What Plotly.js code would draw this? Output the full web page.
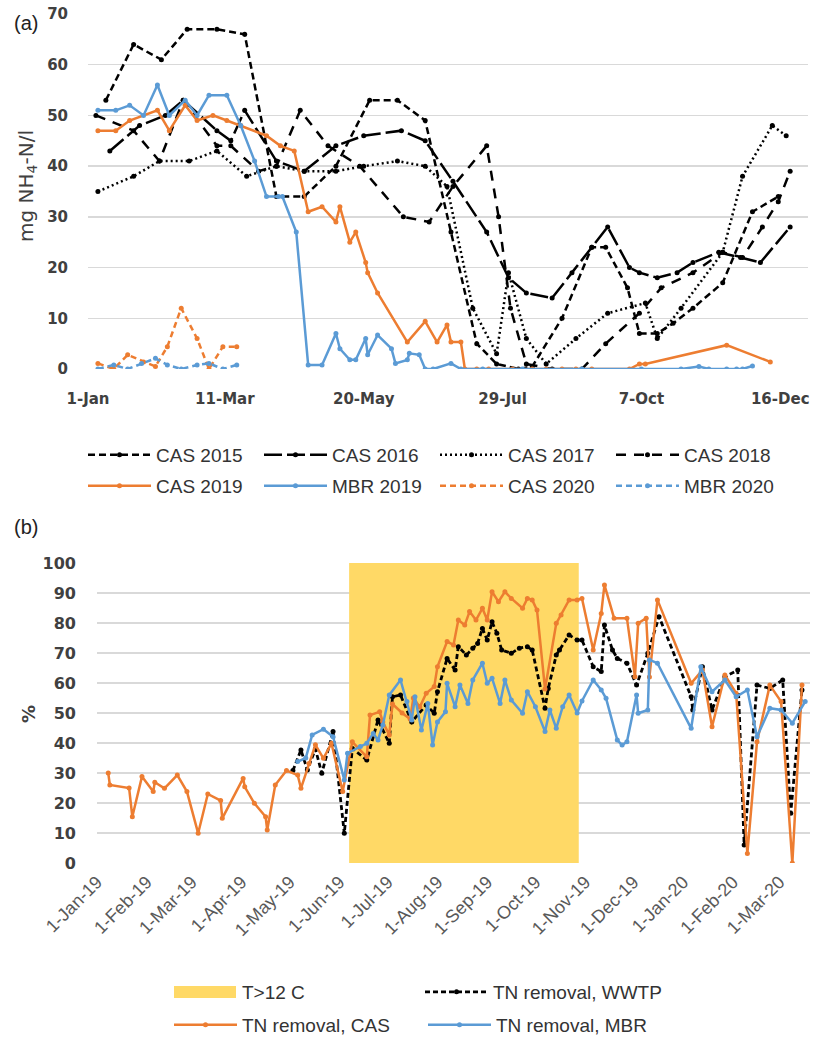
<!DOCTYPE html>
<html><head><meta charset="utf-8">
<script src="https://cdn.plot.ly/plotly-3.0.1.min.js"></script>
<style>html,body{margin:0;padding:0;background:#fff}#chart{width:815px;height:1048px}</style>
</head><body><div id="chart"></div>
<script>
// ===== Panel (a): NH4-N, x = day of year =====
const topTickVals = [1, 70, 140, 210, 280, 350];
const topTickText = ['1-Jan', '11-Mar', '20-May', '29-Jul', '7-Oct', '16-Dec'];

const cas2015Day = [10,24,38,51,66,80,96,110,126,143,157,171,184,197,207,218,225,240,255,262,273,279,288,296,306,321,336,349];
const cas2015    = [53,64,61,67,67,66,34,34,40,53,53,49,27,5,1,0,0.5,10,24,24,16,7,7,9,12,17,31,34];

const cas2016Day = [12,27,40,49,66,73,80,96,110,126,140,159,171,185,202,213,222,235,245,255,263,274,279,288,298,306,319,330,340,355];
const cas2016    = [43,48,50,53,47,45,51,41,39,44,46,47,45,37,27,18,15,14,19,24,28,20,19,18,19,21,23,22,21,28];

const cas2017Day = [6,24,37,52,66,81,96,110,126,140,157,171,182,195,207,213,222,232,247,263,282,288,300,321,331,346,353];
const cas2017    = [35,38,41,41,43,38,40,39,39,40,41,40,36,12,3,19,6,1,6,11,13,6,12,23,38,48,46];

const cas2018Day = [5,24,37,49,66,73,87,96,108,122,138,160,173,185,202,208,214,222,235,250,262,279,290,306,321,331,341,349,355];
const cas2018    = [50,47,41,53,44,44,39,40,51,44,40,30,29,36,44,30,12,1,0,0,5,11,16,19,23,22,28,33,39];

const cas2019Day = [6,15,22,36,42,50,56,64,71,78,91,98,105,112,119,126,128,133,136,141,142,147,162,171,177,182,184,189,191,197,203,215,225,232,240,247,255,274,279,282,323,345];
const cas2019    = [47,47,49,51,47,52,49,50,49,48,46,44,43,31,32,29,32,25,27,21,19,15,5.3,9.4,5.3,8.7,5.3,5.3,0,0,0,0,0,0,0,0,0,0,1,1,4.7,1.4];

const mbr2019Day = [6,15,22,29,36,42,50,56,62,71,78,85,91,97,99,106,112,119,126,128,133,136,141,142,147,154,156,162,163,168,171,175,184,189,200,220,250,280,300,309,314,323,328,331,336];
const mbr2019    = [51,51,52,50,56,50,53,50,54,54,48,41,34,34,34,27,0.8,0.8,7,4,1.8,1.8,6,2.8,6.7,4,1.1,1.8,3.1,2.8,0,0,1.1,0,0,0,0,0,0,0.5,0,0,0,0,0.6];

const cas2020Day = [6,14,21,29,35,41,48,56,62,69,76];
const cas2020    = [1.1,0,2.8,1.4,0.5,4.4,12,6,0,4.4,4.4];
const mbr2020Day = [6,14,21,28,35,41,48,56,62,69,76];
const mbr2020    = [0,0.8,0,1.1,2.1,0.8,0,0.8,1.1,0,0.8];

// ===== Panel (b): TN removal, x = days since 1-Jan-2019 =====
const botTickVals = [0,31,59,90,120,151,181,212,243,273,304,334,365,396,425];
const botTickText = ['1-Jan-19','1-Feb-19','1-Mar-19','1-Apr-19','1-May-19','1-Jun-19','1-Jul-19','1-Aug-19','1-Sep-19','1-Oct-19','1-Nov-19','1-Dec-19','1-Jan-20','1-Feb-20','1-Mar-20'];
const warmPeriod = [157, 300];   // T>12 C, start and end day

const tnCasDay = [7,8,20,22,28,35,36,42,50,56,63,69,77,78,91,92,98,105,106,111,118,125,127,132,136,141,146,153,159,168,170,176,178,182,184,190,195,197,201,205,210,212,218,222,225,229,232,236,240,243,246,250,254,258,265,268,271,274,279,286,289,294,299,302,309,314,316,322,330,335,337,342,344,349,370,377,383,391,398,405,411,419,426,433,439];
const tnCas    = [30,26,25,15.4,28.8,23.8,26.9,24.9,29.3,23.8,9.9,23,20.8,14.9,28.2,25.4,19.9,15.4,11,26,30.8,29.3,24.9,33.2,39.4,34.9,39.9,23.8,40.4,35.4,49.3,50.4,47,42.7,53,50,48,55,52,56.6,58.8,65.4,73.8,72.7,81,79.3,83.8,81,84.9,81,90.4,87.1,90.4,88.2,84.9,88.2,87.7,84.3,58,79.9,82.7,87.7,87.7,88.2,71,83.2,92.7,81.6,81.6,62.1,79.9,81.6,62,87.7,59.9,64.3,45.4,62.7,56.6,3.2,40.4,59.3,53.8,0,59.3];

const tnWwtpDay = [122,127,131,136,140,147,154,159,168,175,182,184,189,196,205,210,212,218,223,225,230,234,237,240,243,246,249,252,258,263,268,271,279,281,286,288,294,299,302,309,314,316,321,324,330,336,343,350,370,371,377,383,391,399,403,411,419,427,432,439];
const tnWwtp    = [30.8,37.7,31,38,29.9,43.8,9.9,38.2,34.3,47.7,39.9,55.4,56,47,52.7,49.9,57.1,68.2,64.3,72.1,69.3,71.6,73.2,78.2,74.3,80.4,76.6,71,69.9,71.6,72.1,71,51.6,58.2,69.3,71,76,74.3,74.3,65.4,63.8,79.3,71,68.2,66.6,59.3,69.9,82.1,55.4,51,65.4,51,62.1,64.3,6,59.3,58.2,61,16.6,57.7];

const tnMbrDay = [125,130,134,141,147,154,156,164,168,172,175,178,182,189,193,196,198,202,206,209,212,217,218,223,226,231,234,240,243,246,251,254,258,265,268,273,279,282,286,290,294,299,302,309,314,317,324,327,330,336,337,343,344,349,370,376,383,391,398,405,411,419,426,433,441];
const tnMbr    = [33.8,35,42.7,44.6,42.1,27.7,36.6,38.8,39.9,43.2,41,46,56,61,53.8,47.7,55.4,44.3,53.2,39.3,47,50.4,59.9,52.1,59.3,53.2,61,66.6,59.9,61.6,53.2,61,54.3,49.9,57.1,52.1,43.8,51,44.9,52.1,56,50,54,61,57.7,54.9,41,39.3,40.4,56,49.9,51,67.7,66.6,44.9,65.4,57.1,61,55.4,57.7,42.1,51.6,51,46.6,53.8];

// ===== styling =====
const ORANGE = '#ED7D31', BLUE = '#5B9BD5', BLACK = '#000000', GOLD = '#FFD966';
const W = 815, H = 1048;
const px = v => v / W, py = v => 1 - v / H;
const tickFont = {family: 'DejaVu Sans', size: 15, weight: 'bold', color: '#404040'};
const tickFont2 = {family: 'DejaVu Sans', size: 16, weight: 'bold', color: '#404040'};
const legFont = {family: 'Liberation Sans, Arial', size: 19, color: '#333333'};

function line(name, x, y, color, dash, legend, xa, ya, width) {
  return {type: 'scatter', mode: 'lines+markers', name: name, x: x, y: y,
    xaxis: xa, yaxis: ya, legend: legend,
    line: {color: color, width: width || 2.5, dash: dash || 'solid'},
    marker: {color: color, size: 5}};
}

const traces = [
  line('CAS 2015', cas2015Day, cas2015, BLACK, '7px,4px', 'legend', 'x', 'y'),
  line('CAS 2016', cas2016Day, cas2016, BLACK, '18px,5px', 'legend', 'x', 'y'),
  line('CAS 2017', cas2017Day, cas2017, BLACK, '2px,3px', 'legend', 'x', 'y'),
  line('CAS 2018', cas2018Day, cas2018, BLACK, '10px,8px', 'legend', 'x', 'y'),
  line('CAS 2019', cas2019Day, cas2019, ORANGE, 'solid', 'legend2', 'x', 'y'),
  line('MBR 2019', mbr2019Day, mbr2019, BLUE, 'solid', 'legend2', 'x', 'y'),
  line('CAS 2020', cas2020Day, cas2020, ORANGE, '6px,4px', 'legend2', 'x', 'y'),
  line('MBR 2020', mbr2020Day, mbr2020, BLUE, '6px,4px', 'legend2', 'x', 'y'),
  {type: 'scatter', mode: 'lines', name: 'T>12 C', showlegend: false,
   x: [warmPeriod[0], warmPeriod[1], warmPeriod[1], warmPeriod[0], warmPeriod[0]],
   y: [0, 0, 100, 100, 0], xaxis: 'x2', yaxis: 'y2',
   fill: 'toself', fillcolor: GOLD, line: {width: 0, color: GOLD}, hoverinfo: 'skip'},
  line('TN removal, WWTP', tnWwtpDay, tnWwtp, BLACK, '5px,3px', 'legend3', 'x2', 'y2', 2.8),
  line('TN removal, CAS', tnCasDay, tnCas, ORANGE, 'solid', 'legend4', 'x2', 'y2'),
  line('TN removal, MBR', tnMbrDay, tnMbr, BLUE, 'solid', 'legend4', 'x2', 'y2')
];

function leg(x, y, ew, iw) {
  return {orientation: 'h', x: x, xanchor: 'left', y: y, yanchor: 'middle',
    entrywidth: ew, entrywidthmode: 'pixels', itemwidth: iw, font: legFont,
    bgcolor: 'rgba(0,0,0,0)', borderwidth: 0, traceorder: 'normal', itemclick: false};
}

const layout = {
  width: W, height: H, margin: {l: 0, r: 0, t: 0, b: 0},
  paper_bgcolor: '#ffffff', plot_bgcolor: 'rgba(0,0,0,0)',
  xaxis: {domain: [px(88), px(808)], range: [1, 364], anchor: 'y',
    tickmode: 'array', tickvals: topTickVals, ticktext: topTickText,
    showgrid: false, zeroline: false, showline: false, ticks: '',
    tickfont: tickFont, ticklabelstandoff: 19},
  yaxis: {domain: [py(369), py(14)], range: [0, 70], dtick: 10, anchor: 'x',
    gridcolor: '#d9d9d9', gridwidth: 1.5, zeroline: false, showline: false, ticks: '',
    tickfont: tickFont, ticklabelstandoff: 19},
  xaxis2: {domain: [px(97), px(810)], range: [0, 444], anchor: 'y2',
    tickmode: 'array', tickvals: botTickVals, ticktext: botTickText, tickangle: -45,
    showgrid: false, zeroline: false, showline: false, ticks: '',
    tickfont: {family: 'Liberation Sans', size: 18, color: '#595959'}, ticklabelstandoff: 4},
  yaxis2: {domain: [py(863), py(563)], range: [0, 100], dtick: 10, anchor: 'x2',
    gridcolor: '#d9d9d9', gridwidth: 1.5, zeroline: false, showline: false, ticks: '',
    tickfont: tickFont2, ticklabelstandoff: 20},
  showlegend: true,
  legend: leg(px(83), py(455), 98, 63),
  legend2: leg(px(83), py(486), 98, 63),
  legend3: leg(px(420), py(992), 176, 63),
  legend4: leg(px(169), py(1025), 176, 63),
  shapes: [
    {type: 'rect', xref: 'paper', yref: 'paper', x0: px(174), x1: px(236), y0: py(998), y1: py(986),
     fillcolor: GOLD, line: {width: 0}}
  ],
  annotations: [
    {text: '(a)', x: px(12), y: py(23), xref: 'paper', yref: 'paper', xanchor: 'left', yanchor: 'middle',
     showarrow: false, font: {family: 'Liberation Sans', size: 20, color: '#222'}},
    {text: '(b)', x: px(12), y: py(527), xref: 'paper', yref: 'paper', xanchor: 'left', yanchor: 'middle',
     showarrow: false, font: {family: 'Liberation Sans', size: 20, color: '#222'}},
    {text: 'mg NH<sub>4</sub>-N/l', x: px(27), y: py(186), xref: 'paper', yref: 'paper',
     xanchor: 'center', yanchor: 'middle', textangle: -90, showarrow: false,
     font: {family: 'DejaVu Sans', size: 20, color: '#404040'}},
    {text: '%', x: px(28), y: py(714), xref: 'paper', yref: 'paper',
     xanchor: 'center', yanchor: 'middle', textangle: -90, showarrow: false,
     font: {family: 'DejaVu Sans', size: 18, weight: 'bold', color: '#404040'}},
    {text: 'T>12 C', x: px(240), y: py(992), xref: 'paper', yref: 'paper',
     xanchor: 'left', yanchor: 'middle', showarrow: false, font: legFont}
  ]
};

Plotly.newPlot('chart', traces, layout, {staticPlot: true, displayModeBar: false});
</script>
</body></html>
